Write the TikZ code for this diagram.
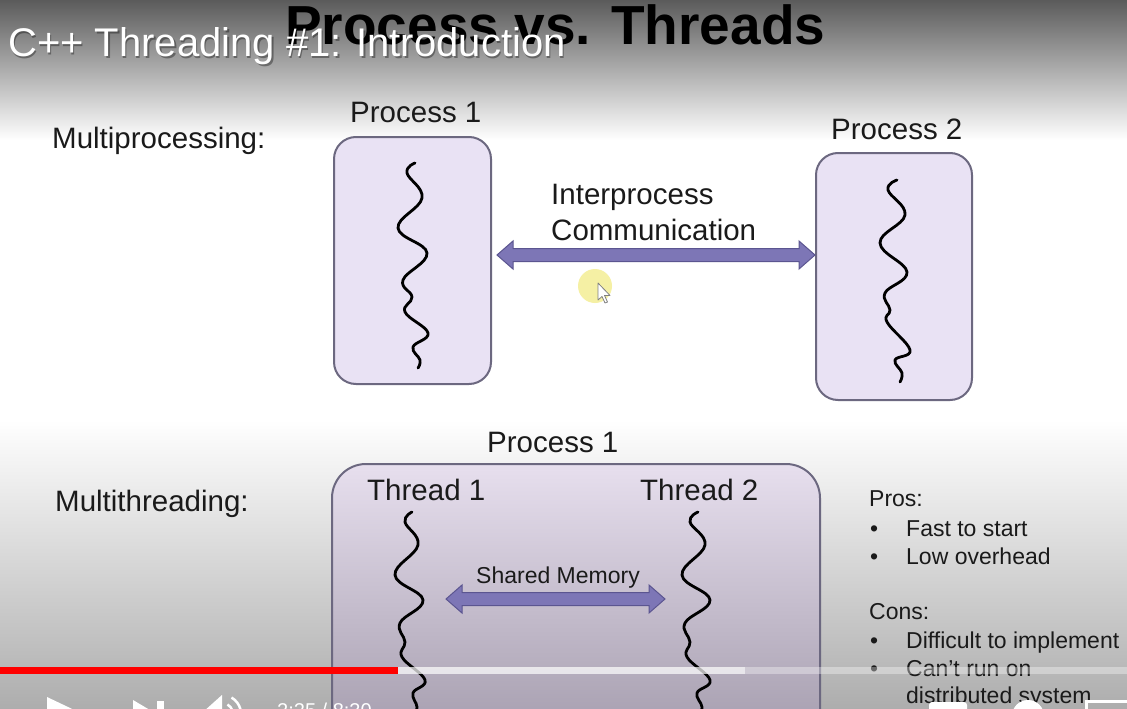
\documentclass[tikz,border=0pt]{standalone}
\usepackage{fontspec}
\setmainfont{Liberation Sans}
\usetikzlibrary{calc}
\definecolor{lav}{HTML}{E9E2F4}
\definecolor{lavT}{HTML}{E7DFEE}
\definecolor{lavB}{HTML}{9C94A5}
\definecolor{boxline}{HTML}{6C6880}
\definecolor{arrfill}{HTML}{7D76B6}
\definecolor{arrline}{HTML}{5B5590}
\definecolor{txt}{HTML}{1A1A1A}
\definecolor{gTop}{HTML}{5B5B5B}
\definecolor{gMid}{HTML}{B3B3B3}
\definecolor{gBot}{HTML}{ADADAD}
\definecolor{cursy}{HTML}{F2EA7E}
\newcommand\dblarr[2]{%
  \fill[arrfill, draw=arrline, line width=1pt, line join=miter]
    let \p1=(#1), \p2=(#2) in
    (\x1,\y1) -- (\x1+16pt,\y1+14pt) -- (\x1+16pt,\y1+6.5pt) -- (\x2-16pt,\y1+6.5pt)
    -- (\x2-16pt,\y1+14pt) -- (\x2,\y1) -- (\x2-16pt,\y1-14pt) -- (\x2-16pt,\y1-6.5pt)
    -- (\x1+16pt,\y1-6.5pt) -- (\x1+16pt,\y1-14pt) -- cycle;}
\begin{document}
\begin{tikzpicture}[x=1pt,y=-1pt,
  lbl/.style={anchor=base west, inner sep=0pt, font=\fontsize{29.5}{34}\selectfont, text=txt},
  small/.style={anchor=base west, inner sep=0pt, font=\fontsize{23}{27}\selectfont, text=txt},
  pbox/.style={draw=boxline, line width=2pt, rounded corners=22pt, fill=lav, inner sep=0pt},
  thread/.style={line width=2.8pt, line cap=round, line join=round, black},
  icon/.style={fill=white}]
\useasboundingbox (0,0) rectangle (1127,709);
\clip (0,0) rectangle (1127,709);
% backgrounds
\fill[white] (0,0) rectangle (1127,709);
\shade[top color=gTop, middle color=gMid, bottom color=white] (0,0) rectangle (1127,140);
\shade[top color=white, bottom color=gBot] (0,420) rectangle (1127,709);
% slide title
\node[anchor=base west, inner sep=0pt, text=black, font=\bfseries\fontsize{55}{60}\selectfont] (title) at (285,45) {Process vs. Threads};
% multiprocessing
\node[lbl] (mp) at (52,148) {Multiprocessing:};
\node[pbox, minimum width=157pt, minimum height=247pt] (p1) at (412.5,260.5) {};
\node[pbox, minimum width=156pt, minimum height=247pt] (p2) at (894,276.5) {};
\node[lbl] (p1l) at (350,122) {Process 1};
\node[lbl] (p2l) at (831,139) {Process 2};
\node[lbl] (ipc1) at (551,204) {Interprocess};
\node[lbl] (ipc2) at (551,240) {Communication};
\coordinate (ipcA) at ($(p1.east)+(5,-5.5)$);
\coordinate (ipcB) at (p2.west |- ipcA);
\dblarr{ipcA}{ipcB}
\draw[thread] plot[smooth, tension=0.7] coordinates {(415,163) (407,173) (422,198) (398,228) (427,253) (403,280) (412,297) (405,312) (428,333) (413,347) (420,360) (418,368)};
\draw[thread] plot[smooth, tension=0.7] coordinates {(897,180) (888,190) (905,215) (880,243) (907,272) (885,293) (890,310) (887,322) (910,350) (895,360) (902,373) (900,382)};
% multithreading
\node[lbl] (mt) at (55,511) {Multithreading:};
\node[lbl] (ptl) at (487,452) {Process 1};
\node[draw=boxline, line width=2pt, rounded corners=34pt, top color=lavT, bottom color=lavB, minimum width=488pt, minimum height=310pt, inner sep=0pt] (pt) at (576,619) {};
\node[lbl] (t1) at (367,500) {Thread 1};
\node[lbl] (t2) at (640,500) {Thread 2};
\node[small] (sm) at (476,583) {Shared Memory};
\coordinate (smA) at (446,599);
\coordinate (smB) at (665,599);
\dblarr{smA}{smB}
\draw[thread] plot[smooth, tension=0.7] coordinates {(412,512) (405,522) (418,545) (395,575) (423,600) (400,623) (405,642) (402,657) (425,680) (413,693) (417,707) (414,718)};
\draw[thread] plot[smooth, tension=0.7] coordinates {(698,512) (690,522) (705,545) (682,575) (710,600) (685,623) (690,642) (687,657) (710,680) (697,693) (702,707) (699,718)};
% pros / cons
\node[small] (pros) at (869,506) {Pros:};
\node[small] (b1) at (870,536) {•};
\node[small] (pr1) at (906,536) {Fast to start};
\node[small] (b2) at (870,564) {•};
\node[small] (pr2) at (906,564) {Low overhead};
\node[small] (cons) at (869,619) {Cons:};
\node[small] (b3) at (870,648) {•};
\node[small] (co1) at (906,648) {Difficult to implement};
\node[small] (b4) at (870,676) {•};
\node[small] (co2) at (906,676) {Can’t run on};
\node[small] (co3) at (906,703) {distributed system};
% cursor
\fill[cursy, opacity=0.7] (595,286) circle (17);
\filldraw[fill=white, draw=gray, line width=0.8pt, line join=round] (598,283) -- (598,300) -- (602,296.5) -- (605,303) -- (607.5,302) -- (604.5,295.5) -- (610,295.5) -- cycle;
% video overlay: title
\node[anchor=base west, inner sep=0pt, text=black, opacity=0.35, font=\fontsize{40}{44}\selectfont] (ytsh) at (9.5,58.5) {C++ Threading \#1: Introduction};
\node[anchor=base west, inner sep=0pt, text=white, font=\fontsize{40}{44}\selectfont] (yt) at (8,57) {C++ Threading \#1: Introduction};
% progress bar
\fill[white, opacity=0.35] (0,667) rectangle (1127,674);
\fill[white, opacity=0.55] (398,667) rectangle (745,674);
\fill[red] (0,667) rectangle (398,674);
% player controls (tops only)
\fill[icon] (47,697) -- (87,716) -- (47,735) -- cycle;
\fill[icon] (133,700) -- (160,716) -- (133,732) -- cycle;
\fill[icon] (157,701) rectangle (164,730);
\fill[icon] (203,712) -- (222,695) -- (222,730) -- cycle;
\draw[white, line width=2.5pt] (222,714) ++(-60:11) arc (-60:60:11);
\draw[white, line width=2.5pt] (222,714) ++(-60:19) arc (-60:60:19);
\node[anchor=base west, inner sep=0pt, text=white, font=\fontsize{20}{24}\selectfont] (time) at (277,717) {2:25 / 8:30};
\fill[icon, rounded corners=3pt] (929,702) rectangle (967,730);
\fill[icon] (1028,716) circle (16);
\draw[white, line width=3pt] (1086,712) -- (1086,701) -- (1127,701);
\end{tikzpicture}
\end{document}
